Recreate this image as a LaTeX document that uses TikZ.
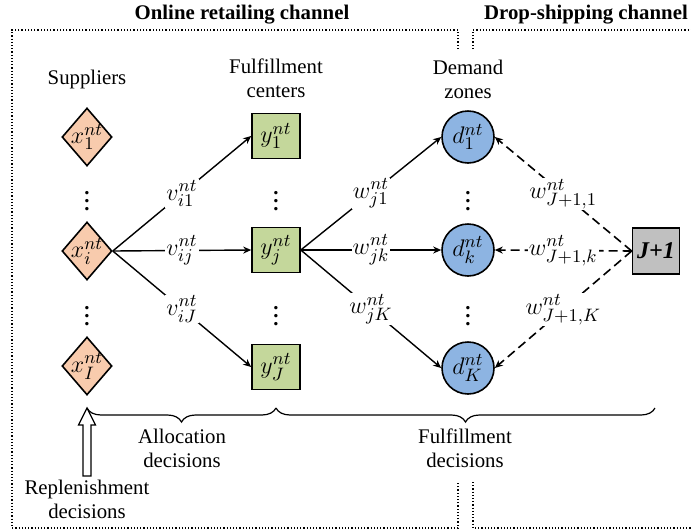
\documentclass[tikz,border=0pt]{standalone}
\usepackage{fontspec}
\setmainfont{Liberation Serif}
\usetikzlibrary{arrows.meta,shapes.geometric,decorations.pathreplacing}

\DeclareMathSizes{12}{12}{9.5}{7}

\definecolor{supplierfill}{HTML}{F8CBAD}
\definecolor{centerfill}{HTML}{C4D79B}
\definecolor{zonefill}{HTML}{8DB4E2}
\definecolor{dropfill}{HTML}{C0C0C0}

\tikzset{
  mathtxt/.style={font=\fontsize{12}{14}\selectfont},
  supplier/.style={diamond,draw,fill=supplierfill,line width=0.8pt,minimum width=25pt,minimum height=29pt,inner sep=0pt},
  fcenter/.style={rectangle,draw,fill=centerfill,line width=0.8pt,minimum width=24pt,minimum height=22.5pt,inner sep=0pt,mathtxt},
  zone/.style={circle,draw,fill=zonefill,line width=0.8pt,minimum size=26pt,inner sep=0pt,mathtxt},
  dropship/.style={rectangle,draw,fill=dropfill,line width=0.8pt,minimum width=23.5pt,minimum height=23pt,inner sep=0pt,font=\fontsize{12}{14}\selectfont\bfseries\itshape},
  flow/.style={-{Stealth[length=4pt,width=3.5pt]},line width=0.7pt},
  dropflow/.style={flow,line width=0.8pt,dash pattern=on 4.5pt off 2.5pt},
  flowlbl/.style={midway,fill=white,inner sep=0.5pt,mathtxt},
  channel/.style={densely dotted,line width=0.6pt},
  decbrace/.style={decorate,decoration={brace,mirror,amplitude=7pt},line width=0.6pt}
}

\begin{document}
\fontsize{10.4}{12}\selectfont
\begin{tikzpicture}[x=0.5pt,y=-0.5pt]
    \useasboundingbox (0,0) rectangle (691,531);

    % channels
    \node[font=\bfseries] (onlinettl) at (242,15) {Online retailing channel};
    \node[font=\bfseries] (dropttl) at (586,15) {Drop-shipping channel};
    \draw[channel] (458,49) -- (458,30) -- (12,30) -- (12,528) -- (458,528) -- (458,482);
    \draw[channel] (473,49) -- (473,30) -- (691,30);
    \draw[channel] (473,482) -- (473,528) -- (691,528);

    %%%%%%%%%%%%%%%%%%%%%%%%%%%%%%%%%%%%%%%%%%%%%%%%%%%%%%

    % suppliers
    \node (suplbl) at (87,79) {Suppliers};
    \node[supplier,label={[mathtxt]center:$x^{nt}_{1}$}] (sup1) at (87,137) {};
    \node[supplier,label={[mathtxt]center:$x^{nt}_{i}$}] (supi) at (87,251) {};
    \node[supplier,label={[mathtxt]center:$x^{nt}_{I}$}] (supI) at (87,366) {};

    % fulfillment centers
    \node[align=center] (fclbl) at (276,78) {Fulfillment\\centers};
    \node[fcenter] (fc1) at (276,136) {$y^{nt}_{1}$};
    \node[fcenter] (fcj) at (276,250) {$y^{nt}_{j}$};
    \node[fcenter] (fcJ) at (276,367) {$y^{nt}_{J}$};

    % demand zones
    \node[align=center] (dzlbl) at (468,79) {Demand\\zones};
    \node[zone] (dz1) at (468,137) {$d^{nt}_{1}$};
    \node[zone] (dzk) at (468,250) {$d^{nt}_{k}$};
    \node[zone] (dzK) at (468,368) {$d^{nt}_{K}$};

    % drop-shipper
    \node[dropship] (ds) at (656,251) {J+1};

    % dots between rows
    \foreach \x/\nm in {87/sup,276/fc,468/dz}{
        \node[font=\bfseries] (\nm dotsa) at (\x,195) {\vdots};
        \node[font=\bfseries] (\nm dotsb) at (\x,310) {\vdots};
    }

    %%%%%%%%%%%%%%%%%%%%%%%%%%%%%%%%%%%%%%%%%%%%%%%%%%%%%%

    % allocation flows
    \draw[flow] (supi.east) -- node[flowlbl] (lbvi1) {$v^{nt}_{i1}$} (fc1.west);
    \draw[flow] (supi.east) -- node[flowlbl] (lbvij) {$v^{nt}_{ij}$} (fcj.west);
    \draw[flow] (supi.east) -- node[flowlbl] (lbviJ) {$v^{nt}_{iJ}$} (fcJ.west);

    % fulfillment flows
    \draw[flow] (fcj.east) -- node[flowlbl] (lbwj1) {$w^{nt}_{j1}$} (dz1.west);
    \draw[flow] (fcj.east) -- node[flowlbl] (lbwjk) {$w^{nt}_{jk}$} (dzk.west);
    \draw[flow] (fcj.east) -- node[flowlbl] (lbwjK) {$w^{nt}_{jK}$} (dzK.west);

    % drop-shipping flows
    \draw[dropflow] (ds.west) -- node[flowlbl] (lbwd1) {$w^{nt}_{J+1,1}$} (dz1.east);
    \draw[dropflow] (ds.west) -- node[flowlbl] (lbwdk) {$w^{nt}_{J+1,k}$} (dzk.east);
    \draw[dropflow] (ds.west) -- node[flowlbl] (lbwdK) {$w^{nt}_{J+1,K}$} (dzK.east);

    %%%%%%%%%%%%%%%%%%%%%%%%%%%%%%%%%%%%%%%%%%%%%%%%%%%%%%

    % decisions
    \draw[decbrace] (87,408) -- (276,408);
    \draw[decbrace] (276,408) -- (655,408);
    \node[align=center] (allocdec) at (182,448) {Allocation\\decisions};
    \node[align=center] (fulfdec) at (465,448) {Fulfillment\\decisions};
    \node[align=center] (repldec) at (87,499) {Replenishment\\decisions};
    \draw[fill=white,line width=0.6pt] (83,476) -- (83,425) -- (78.5,425) -- (87,408)
        -- (95.5,425) -- (91,425) -- (91,476) -- cycle;

\end{tikzpicture}
\end{document}
